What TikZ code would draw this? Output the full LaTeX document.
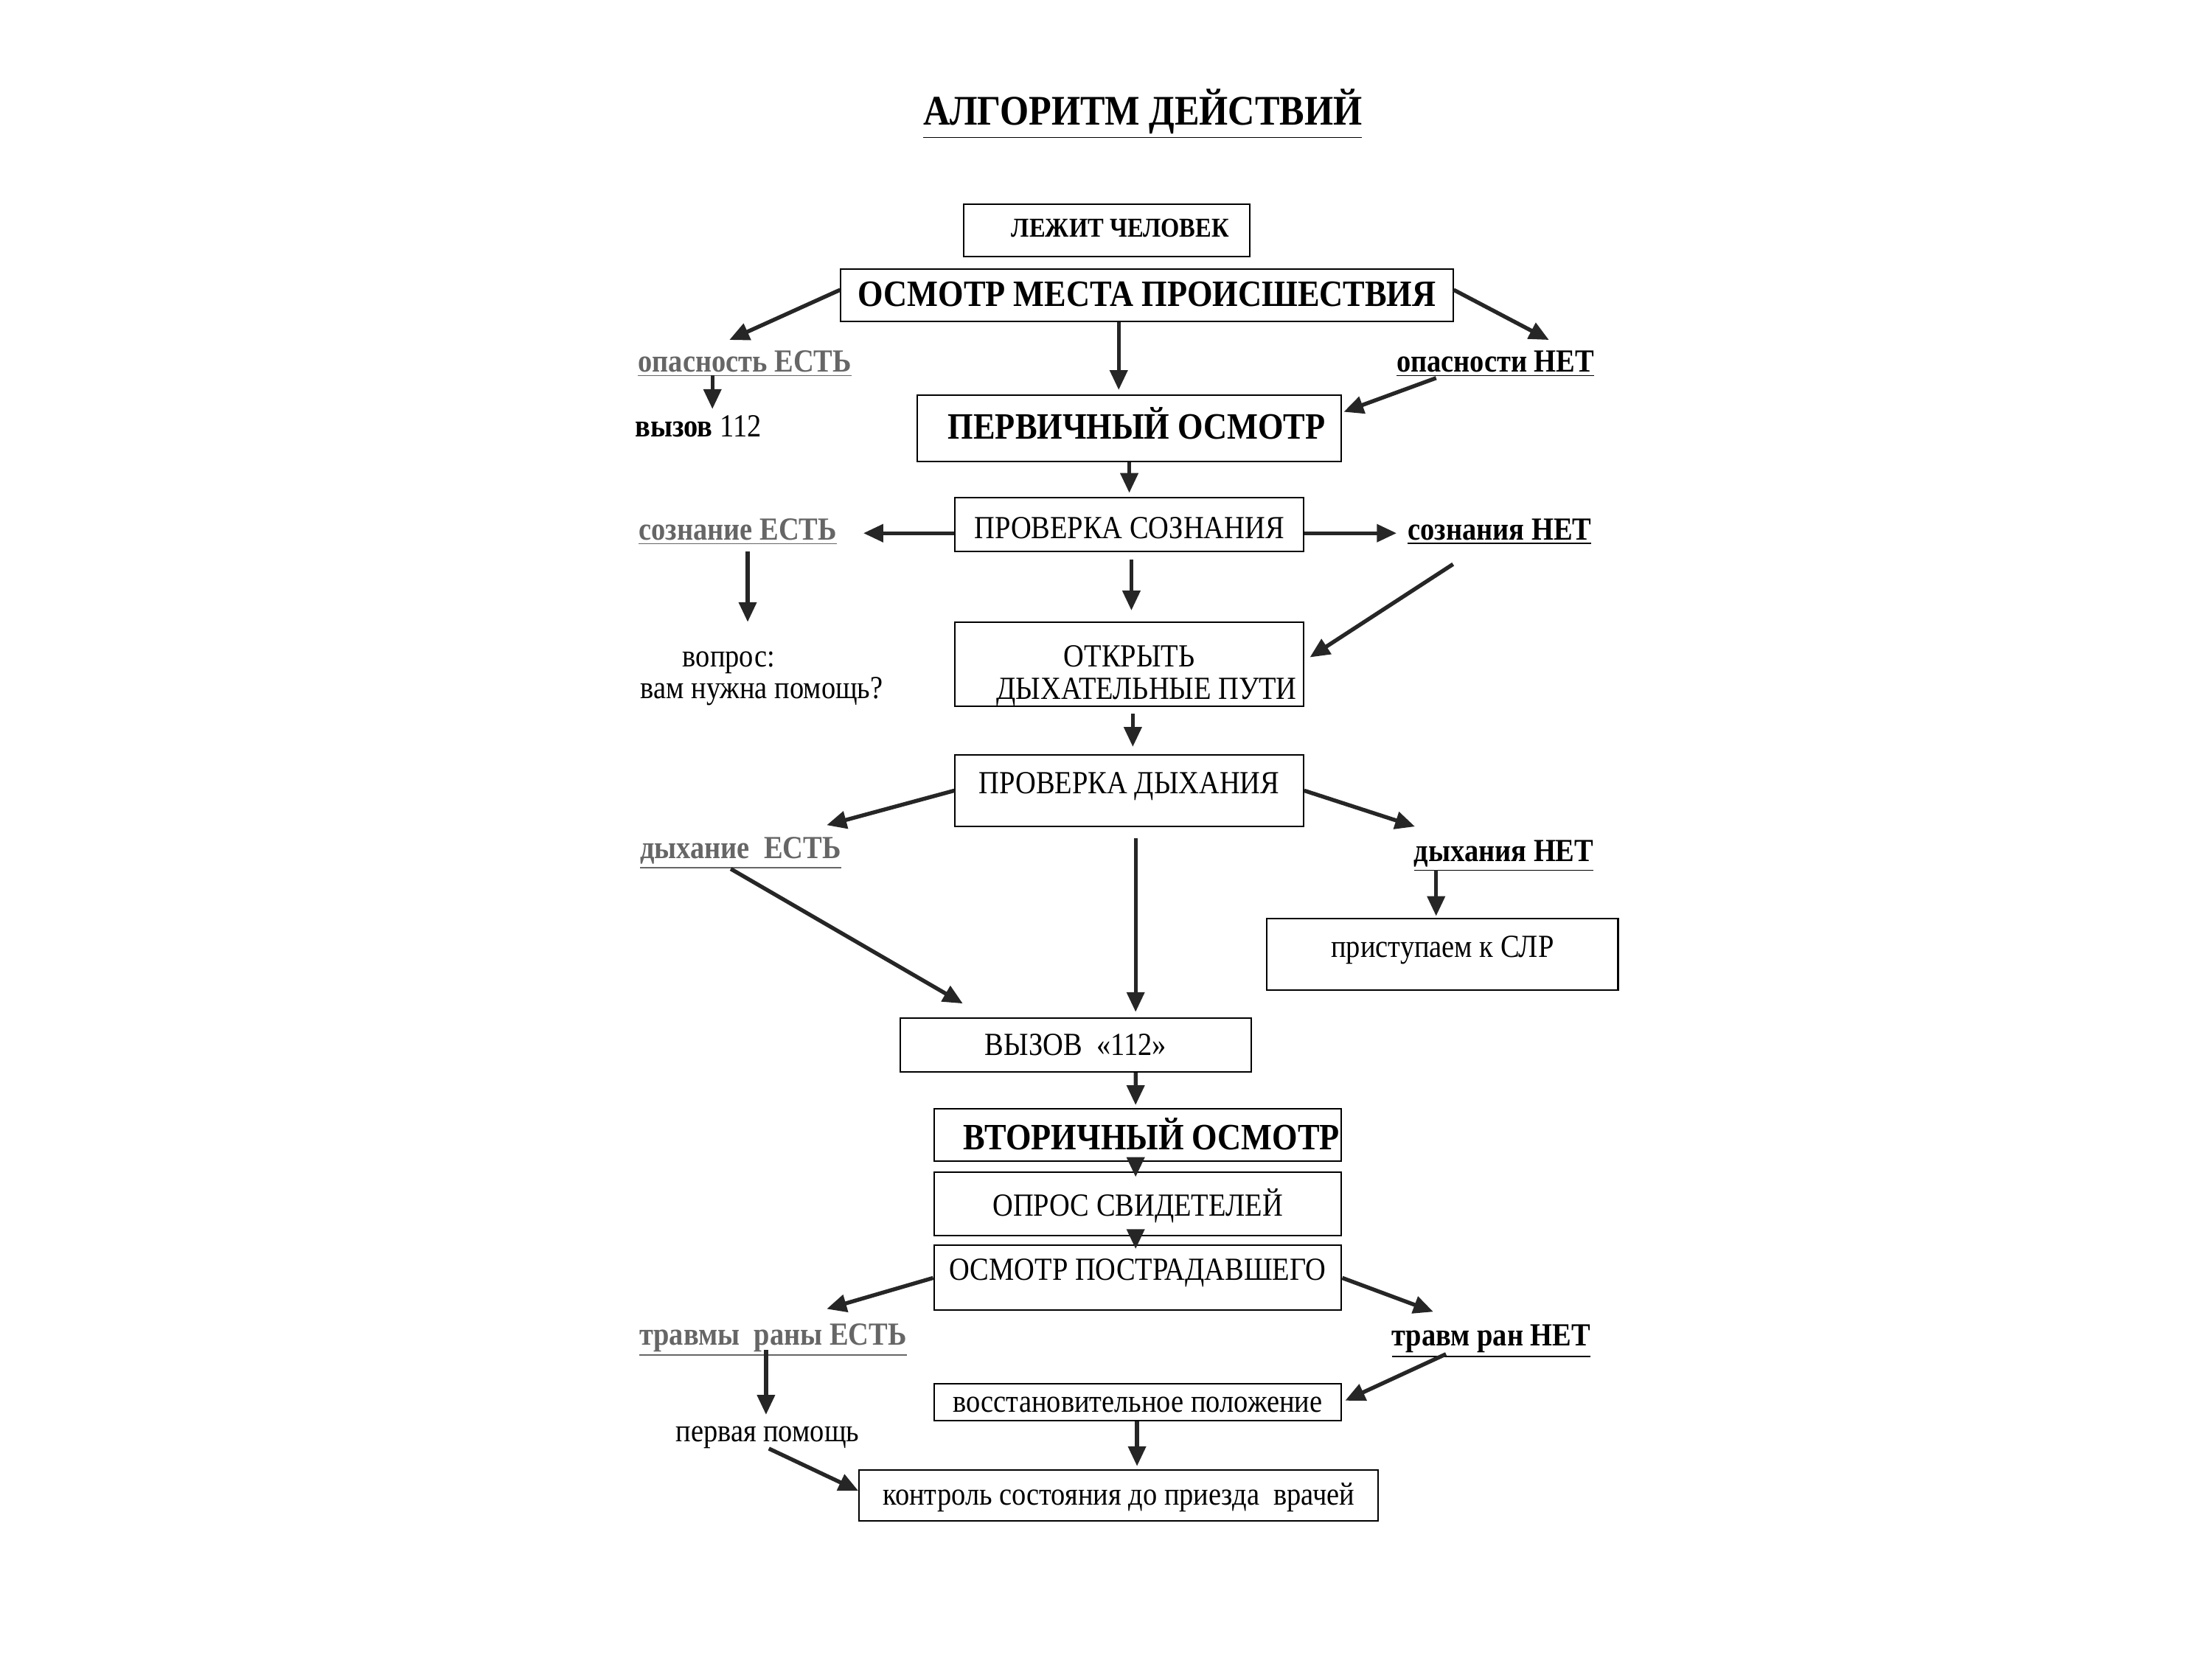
\documentclass[tikz,border=0pt]{standalone}
\usepackage{fontspec}
\setmainfont{Liberation Serif}[FakeStretch=0.88]
\usepackage{tikz}
\usetikzlibrary{arrows.meta, positioning, calc}

\begin{document}
\begin{tikzpicture}[
    x=0.02cm, y=-0.02cm,
    box/.style={rectangle, draw, line width=0.6pt, inner sep=0pt, font=\fontsize{13}{13}\selectfont, text height=9pt, text depth=1pt},
    bigbox/.style={box, font=\fontsize{15}{15}\selectfont\bfseries, text height=10pt},
    yeslabel/.style={inner sep=1pt, font=\fontsize{13}{13}\selectfont\bfseries, text=black!60},
    nolabel/.style={inner sep=1pt, font=\fontsize{13}{13}\selectfont\bfseries},
    note/.style={inner sep=1pt, font=\fontsize{13}{13}\selectfont},
    arrow/.style={-{Triangle[length=8pt,width=7pt]}, line width=1.6pt, black!85}
]
\useasboundingbox (0,0) rectangle (1568,1175);

% Title
\node[font=\fontsize{17}{17}\selectfont\bfseries] (title) at (810,81) {\underline{АЛГОРИТМ ДЕЙСТВИЙ}};

% Main chain
\node[box, font=\fontsize{11}{11}\selectfont\bfseries, text depth=4pt, minimum width=4.06cm, minimum height=0.74cm] (lezhit) at (784.5,163.5) {\hspace*{11pt}ЛЕЖИТ ЧЕЛОВЕК};
\node[bigbox, minimum width=8.68cm, minimum height=0.74cm] (scene) at (813,209.5) {ОСМОТР МЕСТА ПРОИСШЕСТВИЯ};
\node[bigbox, minimum width=6.02cm, minimum height=0.94cm] (primary) at (800.5,303.5) {\hspace*{6pt}ПЕРВИЧНЫЙ ОСМОТР};
\node[box, text height=12pt, minimum width=4.94cm, minimum height=0.76cm] (consc) at (800.5,372) {ПРОВЕРКА СОЗНАНИЯ};
\node[box, align=center, text height=, text depth=, minimum width=4.94cm, minimum height=1.16cm] (airway) at (800.5,471) {\rule{0pt}{18pt}ОТКРЫТЬ\\ \hspace*{14pt}ДЫХАТЕЛЬНЫЕ ПУТИ};
\node[box, text depth=6.7pt, minimum width=4.94cm, minimum height=1.02cm] (breath) at (800.5,560.5) {ПРОВЕРКА ДЫХАНИЯ};
\node[box, text depth=6.7pt, minimum width=4.98cm, minimum height=1.02cm] (cpr) at (1022.5,676.5) {приступаем к СЛР};
\node[box, minimum width=4.98cm, minimum height=0.76cm] (call) at (762.5,741) {ВЫЗОВ \ «112»};
\node[bigbox, text height=13pt, minimum width=5.78cm, minimum height=0.74cm] (secondary) at (806.5,804.5) {\hspace*{11pt}ВТОРИЧНЫЙ ОСМОТР};
\node[box, text height=11pt, minimum width=5.78cm, minimum height=0.9cm] (witness) at (806.5,853.5) {ОПРОС СВИДЕТЕЛЕЙ};
\node[box, text depth=7.2pt, minimum width=5.78cm, minimum height=0.92cm] (victim) at (806.5,906) {ОСМОТР ПОСТРАДАВШЕГО};
\node[box, minimum width=5.78cm, minimum height=0.52cm] (recovery) at (806.5,994) {восстановительное положение};
\node[box, minimum width=7.36cm, minimum height=0.72cm] (monitor) at (793,1060) {контроль состояния до приезда \ врачей};

% Branch labels
\node[yeslabel] (danger_yes) at (528,258) {\underline{опасность ЕСТЬ}};
\node[nolabel] (danger_no) at (1060,258) {\underline{опасности НЕТ}};
\node[note] (call112) at (495,302) {\textbf{вызов} 112};
\node[yeslabel] (consc_yes) at (523,377) {\underline{сознание ЕСТЬ}};
\node[nolabel] (consc_no) at (1063,377) {\underline{сознания НЕТ}};
\node[note, align=left] (question) at (540,481) {\hspace*{17pt}вопрос:\\вам нужна помощь?};
\node[yeslabel] (breath_yes) at (525,605) {\underline{дыхание \ ЕСТЬ}};
\node[nolabel] (breath_no) at (1066,607) {\underline{дыхания НЕТ}};
\node[yeslabel] (injury_yes) at (548,950) {\underline{травмы \ раны ЕСТЬ}};
\node[nolabel] (injury_no) at (1057,951) {\underline{травм ран НЕТ}};
\node[note] (firstaid) at (544,1019) {первая помощь};

% Scene check
\draw[arrow] ($(scene.west)+(0,-4)$) -- ($(danger_yes)+(-11,-17)$);
\draw[arrow] ($(scene.east)+(0,-4)$) -- ($(danger_no)+(38,-17)$);
\draw[arrow] ($(scene.south)+(-20,0)$) -- ($(primary.north)+(-7.5,-3)$);
\draw[arrow] ($(danger_yes)+(-23,8)$) -- ($(call112)+(10,-12)$);
\draw[arrow] ($(danger_no)+(-42,10)$) -- ($(primary.east)+(1,-11.5)$);

% Consciousness
\draw[arrow] (primary.south) -- ($(consc.north)+(0,-3)$);
\draw[arrow] ($(consc.west)+(0,6)$) -- ($(consc_yes)+(89,1)$);
\draw[arrow] ($(consc.east)+(0,6)$) -- ($(consc_no)+(-73,1)$);
\draw[arrow] ($(consc.south)+(1.5,5)$) -- ($(airway.north)+(1.5,-8)$);
\draw[arrow] ($(consc_yes)+(7,14)$) -- ($(question)+(-10,-40)$);
\draw[arrow] ($(consc_no)+(-33,23)$) -- ($(airway.east)+(4,-5)$);
\draw[arrow] ($(airway.south)+(2.5,5)$) -- ($(breath.north)+(2.5,-5)$);

% Breathing
\draw[arrow] (breath.west) -- ($(breath_yes)+(61,-20)$);
\draw[arrow] (breath.east) -- ($(breath_no)+(-63,-21)$);
\draw[arrow] ($(breath.south)+(4.5,8)$) -- ($(call.north)+(42.5,-4)$);
\draw[arrow] ($(breath_yes)+(-7,11)$) -- ($(call.north west)+(45,-10)$);
\draw[arrow] ($(breath_no)+(-48,10)$) -- ($(cpr.north)+(-4.5,-1)$);

% Secondary survey
\draw[arrow] ($(call.south)+(42.5,0)$) -- ($(secondary.north)+(-1.5,-2)$);
\draw[arrow] ($(secondary.south)+(-1.5,0)$) -- ($(witness.north)+(-1.5,4)$);
\draw[arrow] ($(witness.south)+(-1.5,0)$) -- ($(victim.north)+(-1.5,3)$);
\draw[arrow] (victim.west) -- ($(injury_yes)+(38,-22)$);
\draw[arrow] (victim.east) -- ($(injury_no)+(-41,-21)$);
\draw[arrow] ($(injury_yes)+(-5,7)$) -- ($(firstaid)+(-1,-16)$);
\draw[arrow] ($(injury_no)+(-32,9)$) -- ($(recovery.east)+(2,-1)$);
\draw[arrow] ($(recovery.south)+(-0.5,0)$) -- ($(monitor.north)+(13,-2)$);
\draw[arrow] ($(firstaid)+(1,8)$) -- ($(monitor.west)+(0,-3)$);

\end{tikzpicture}
\end{document}
